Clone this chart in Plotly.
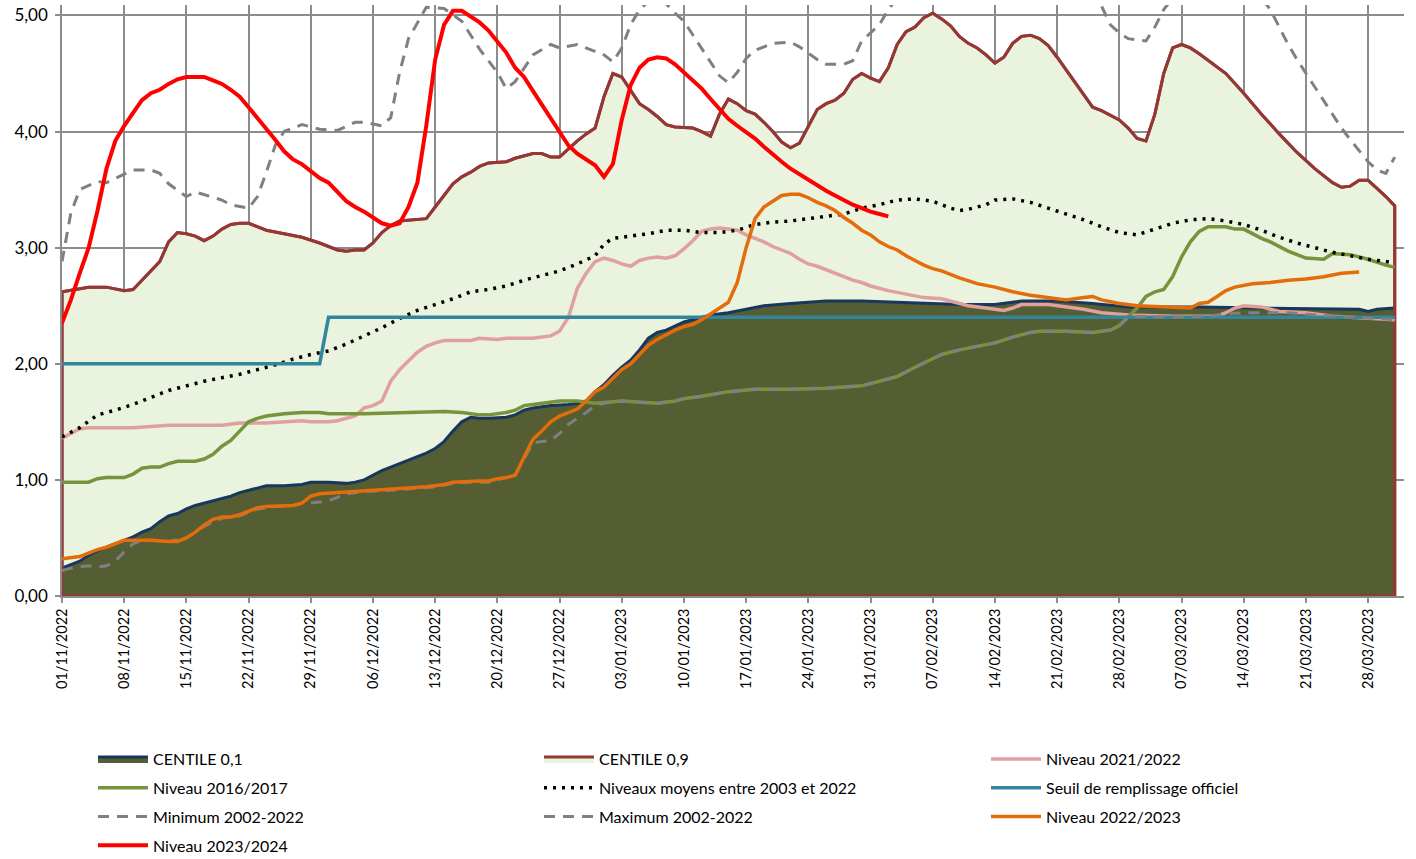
import datetime as dt
import plotly.graph_objects as go

START = dt.date(2022, 11, 1)

# ---------------- data (day offset from 01/11/2022, level) ----------------
c90_day = [0, 3, 5, 7, 8, 9, 10, 11, 12, 13, 14, 15, 16, 17, 18, 19, 20, 21, 23, 25, 27, 29, 31, 32, 33, 34, 35, 36, 37, 38, 40, 41,
           42, 43, 44, 45, 46, 47, 48, 50, 51, 53, 54, 55, 56, 57, 58, 59, 60, 61, 62, 63, 64, 65, 66, 67, 68, 69, 71, 72, 73, 74,
           75, 76, 77, 78, 79, 80, 81, 82, 83, 84, 85, 86, 87, 88, 89, 90, 91, 92, 93, 94, 95, 96, 97, 98, 99, 100, 101, 102, 103,
           104, 105, 106, 107, 108, 109, 110, 111, 112, 113, 114, 115, 116, 117, 118, 119, 120, 121, 122, 123, 124, 125, 126, 127,
           128, 130, 131, 133, 135, 137, 139, 141, 142, 143, 144, 145, 146, 147, 148, 149, 150]
c90_val = [2.62, 2.66, 2.66, 2.63, 2.64, 2.72, 2.80, 2.88, 3.05, 3.13, 3.12, 3.10, 3.06, 3.10, 3.16, 3.20, 3.21, 3.21, 3.15, 3.12,
           3.09, 3.04, 2.98, 2.97, 2.98, 2.98, 3.04, 3.13, 3.19, 3.23, 3.24, 3.25, 3.35, 3.45, 3.55, 3.61, 3.65, 3.70, 3.73, 3.74,
           3.77, 3.81, 3.81, 3.78, 3.78, 3.85, 3.92, 3.98, 4.03, 4.30, 4.50, 4.47, 4.35, 4.24, 4.19, 4.13, 4.06, 4.04, 4.03, 4.00,
           3.96, 4.15, 4.28, 4.24, 4.18, 4.15, 4.08, 4.00, 3.91, 3.86, 3.90, 4.05, 4.19, 4.24, 4.27, 4.33, 4.45, 4.50, 4.46, 4.43,
           4.55, 4.75, 4.86, 4.90, 4.98, 5.02, 4.97, 4.91, 4.82, 4.76, 4.72, 4.66, 4.59, 4.64, 4.76, 4.82, 4.83, 4.80, 4.74, 4.64,
           4.53, 4.43, 4.32, 4.21, 4.18, 4.14, 4.10, 4.03, 3.94, 3.92, 4.15, 4.50, 4.72, 4.75, 4.72, 4.67, 4.56, 4.50, 4.33, 4.15,
           3.98, 3.82, 3.68, 3.62, 3.56, 3.52, 3.53, 3.58, 3.58, 3.51, 3.44, 3.36]

c10_day = [0, 2, 3, 4, 5, 6, 7, 8, 9, 10, 11, 12, 13, 14, 15, 16, 17, 18, 19, 20, 21, 22, 23, 25, 27, 28, 30, 32, 33, 34, 35, 36,
           37, 38, 39, 40, 41, 42, 43, 44, 45, 46, 47, 48, 50, 51, 52, 53, 55, 57, 58, 59, 60, 61, 62, 63, 64, 65, 66, 67, 68, 70,
           72, 73, 75, 77, 79, 82, 86, 90, 94, 97, 101, 105, 107, 108, 112, 116, 120, 128, 135, 143, 146, 147, 148, 150]
c10_val = [0.24, 0.30, 0.35, 0.39, 0.42, 0.45, 0.48, 0.51, 0.55, 0.58, 0.64, 0.69, 0.71, 0.75, 0.78, 0.80, 0.82, 0.84, 0.86, 0.89,
           0.91, 0.93, 0.95, 0.95, 0.96, 0.98, 0.98, 0.97, 0.98, 1.00, 1.04, 1.08, 1.11, 1.14, 1.17, 1.20, 1.23, 1.27, 1.33, 1.42,
           1.50, 1.54, 1.53, 1.53, 1.54, 1.56, 1.60, 1.62, 1.64, 1.65, 1.66, 1.68, 1.76, 1.82, 1.90, 1.97, 2.03, 2.12, 2.22, 2.27,
           2.29, 2.36, 2.40, 2.42, 2.44, 2.47, 2.50, 2.52, 2.54, 2.54, 2.53, 2.52, 2.51, 2.51, 2.53, 2.54, 2.54, 2.52, 2.49, 2.49,
           2.48, 2.47, 2.47, 2.45, 2.47, 2.48]

n2122_day = [0, 1, 2, 3, 8, 10, 12, 18, 20, 23, 25, 27, 28, 30, 31, 32, 33, 34, 35, 36, 37, 38, 39, 40, 41, 42, 43, 46, 47, 49, 50,
             53, 55, 56, 57, 58, 59, 60, 61, 62, 63, 64, 65, 66, 67, 68, 69, 70, 71, 72, 73, 74, 75, 76, 77, 78, 79, 80, 81, 82,
             83, 84, 85, 86, 87, 88, 89, 90, 91, 93, 95, 97, 99, 100, 102, 104, 106, 107, 108, 111, 113, 115, 117, 120, 125, 130,
             131, 132, 133, 135, 137, 140, 143, 147, 150]
n2122_val = [1.36, 1.40, 1.44, 1.45, 1.45, 1.46, 1.47, 1.47, 1.49, 1.49, 1.50, 1.51, 1.50, 1.50, 1.51, 1.53, 1.55, 1.62, 1.64,
             1.68, 1.85, 1.95, 2.03, 2.10, 2.15, 2.18, 2.20, 2.20, 2.22, 2.21, 2.22, 2.22, 2.24, 2.28, 2.40, 2.65, 2.78, 2.88, 2.91,
             2.89, 2.86, 2.84, 2.89, 2.91, 2.92, 2.91, 2.93, 2.99, 3.06, 3.14, 3.16, 3.17, 3.16, 3.15, 3.11, 3.08, 3.05, 3.01, 2.98,
             2.95, 2.90, 2.86, 2.84, 2.81, 2.78, 2.75, 2.72, 2.70, 2.67, 2.63, 2.60, 2.57, 2.56, 2.54, 2.50, 2.48, 2.46, 2.48, 2.51,
             2.51, 2.49, 2.47, 2.44, 2.42, 2.41, 2.41, 2.44, 2.48, 2.50, 2.49, 2.45, 2.44, 2.41, 2.39, 2.38]

n1617_day = [0, 3, 4, 5, 7, 8, 9, 10, 11, 12, 13, 15, 16, 17, 18, 19, 20, 21, 22, 23, 25, 27, 29, 30, 34, 38, 40, 43, 45, 47, 48,
             50, 51, 52, 53, 56, 58, 60, 63, 65, 67, 69, 70, 72, 74, 75, 78, 82, 86, 90, 92, 94, 96, 98, 99, 101, 103, 105, 107,
             109, 110, 113, 116, 118, 119, 120, 121, 122, 123, 124, 125, 126, 127, 128, 129, 131, 132, 133, 135, 136, 137, 138, 139,
             140, 142, 143, 145, 147, 149, 150]
n1617_val = [0.98, 0.98, 1.01, 1.02, 1.02, 1.05, 1.10, 1.11, 1.11, 1.14, 1.16, 1.16, 1.18, 1.22, 1.29, 1.34, 1.42, 1.50, 1.53,
             1.55, 1.57, 1.58, 1.58, 1.57, 1.57, 1.58, 1.58, 1.59, 1.58, 1.56, 1.56, 1.58, 1.60, 1.64, 1.65, 1.68, 1.68, 1.66, 1.68,
             1.67, 1.66, 1.68, 1.70, 1.72, 1.75, 1.76, 1.78, 1.78, 1.79, 1.81, 1.85, 1.89, 1.97, 2.04, 2.08, 2.12, 2.15, 2.18, 2.23,
             2.27, 2.28, 2.28, 2.27, 2.29, 2.33, 2.40, 2.48, 2.58, 2.62, 2.64, 2.75, 2.92, 3.05, 3.14, 3.18, 3.18, 3.16, 3.16, 3.08,
             3.05, 3.01, 2.97, 2.94, 2.91, 2.90, 2.95, 2.94, 2.90, 2.85, 2.83]

moy_day = [0, 2, 4, 6, 8, 10, 12, 14, 16, 18, 20, 22, 24, 26, 28, 30, 32, 34, 36, 38, 40, 42, 44, 46, 48, 50, 52, 54, 56, 58, 60,
           61, 62, 64, 66, 68, 70, 72, 74, 76, 78, 80, 82, 84, 86, 88, 90, 92, 94, 96, 98, 100, 101, 102, 104, 105, 107, 109, 111,
           113, 115, 117, 119, 121, 123, 125, 127, 129, 131, 133, 135, 137, 139, 141, 143, 145, 147, 149, 150]
moy_val = [1.37, 1.45, 1.56, 1.60, 1.65, 1.71, 1.77, 1.81, 1.85, 1.88, 1.91, 1.95, 1.99, 2.04, 2.08, 2.11, 2.17, 2.24, 2.31, 2.39,
           2.46, 2.51, 2.56, 2.62, 2.64, 2.67, 2.72, 2.76, 2.80, 2.86, 2.93, 3.03, 3.08, 3.10, 3.12, 3.15, 3.15, 3.13, 3.13, 3.15,
           3.20, 3.22, 3.23, 3.25, 3.27, 3.29, 3.34, 3.37, 3.41, 3.42, 3.40, 3.34, 3.32, 3.33, 3.37, 3.41, 3.42, 3.39, 3.34, 3.29,
           3.24, 3.18, 3.13, 3.11, 3.16, 3.21, 3.24, 3.25, 3.23, 3.20, 3.15, 3.09, 3.04, 3.00, 2.96, 2.93, 2.90, 2.88, 2.87]

seuil_day = [0, 29, 30, 150]
seuil_val = [2.00, 2.00, 2.40, 2.40]

min_day = [0, 1, 3, 4, 5, 6, 7, 8, 9, 10, 12, 14, 16, 18, 20, 22, 24, 26, 27, 28, 30, 31, 32, 34, 37, 40, 42, 44, 46, 48, 50, 51,
           52, 53, 55, 56, 57, 58, 59, 60, 61, 63, 65, 67, 69, 70, 72, 74, 75, 78, 82, 86, 90, 92, 94, 96, 98, 99, 101, 103, 105,
           107, 109, 110, 113, 116, 118, 119, 120, 121, 125, 129, 131, 133, 138, 141, 143, 147, 150]
min_val = [0.22, 0.24, 0.26, 0.25, 0.26, 0.30, 0.38, 0.45, 0.48, 0.48, 0.47, 0.50, 0.60, 0.67, 0.69, 0.75, 0.77, 0.78, 0.80, 0.80,
           0.82, 0.85, 0.88, 0.90, 0.91, 0.93, 0.94, 0.97, 0.98, 0.98, 1.02, 1.04, 1.18, 1.32, 1.34, 1.40, 1.48, 1.53, 1.58, 1.64,
           1.66, 1.68, 1.67, 1.66, 1.68, 1.70, 1.72, 1.75, 1.76, 1.78, 1.78, 1.79, 1.81, 1.85, 1.89, 1.97, 2.04, 2.08, 2.12, 2.15,
           2.18, 2.23, 2.27, 2.28, 2.28, 2.27, 2.29, 2.33, 2.40, 2.41, 2.40, 2.41, 2.43, 2.44, 2.44, 2.42, 2.41, 2.39, 2.38]

max_day = [0, 1, 2, 4, 5, 8, 10, 11, 12, 14, 15, 18, 19, 21, 22, 23, 24, 25, 27, 29, 31, 33, 34, 36, 37, 38, 39, 41, 43, 45, 47,
           49, 50, 51, 53, 55, 56, 58, 60, 61, 62, 63, 64, 65, 66, 67, 68, 69, 70, 71, 72, 73, 74, 75, 76, 77, 78, 80, 82, 83, 85,
           86, 88, 89, 90, 91, 92, 93, 94, 95, 100, 110, 116, 117, 118, 119, 120, 121, 122, 123, 124, 125, 130, 135, 136, 137, 138,
           139, 140, 141, 142, 143, 144, 145, 146, 147, 148, 149, 150]
max_val = [2.88, 3.30, 3.50, 3.57, 3.56, 3.67, 3.67, 3.64, 3.55, 3.44, 3.48, 3.41, 3.37, 3.34, 3.44, 3.65, 3.88, 4.00, 4.06, 4.02,
           4.01, 4.08, 4.08, 4.05, 4.12, 4.51, 4.80, 5.07, 5.06, 4.95, 4.71, 4.51, 4.37, 4.43, 4.66, 4.75, 4.72, 4.75, 4.69, 4.66,
           4.60, 4.72, 4.92, 5.05, 5.12, 5.12, 5.10, 5.02, 4.95, 4.83, 4.72, 4.60, 4.48, 4.42, 4.51, 4.63, 4.70, 4.76, 4.77, 4.73,
           4.62, 4.58, 4.58, 4.61, 4.78, 4.85, 4.92, 5.05, 5.15, 5.20, 5.30, 5.30, 5.20, 5.08, 4.92, 4.85, 4.80, 4.79, 4.78, 4.90,
           5.05, 5.15, 5.30, 5.15, 5.05, 4.90, 4.75, 4.62, 4.50, 4.38, 4.26, 4.14, 4.03, 3.93, 3.84, 3.74, 3.67, 3.64, 3.78]

n2223_day = [0, 2, 3, 4, 5, 6, 7, 8, 10, 12, 13, 14, 15, 16, 17, 18, 19, 20, 21, 22, 23, 25, 26, 27, 28, 29, 31, 33, 35, 37, 39,
             41, 43, 44, 47, 48, 49, 50, 51, 52, 53, 54, 55, 56, 57, 58, 59, 60, 61, 62, 63, 64, 65, 66, 67, 68, 69, 70, 71, 72,
             73, 74, 75, 76, 77, 78, 79, 80, 81, 82, 83, 84, 85, 86, 87, 88, 89, 90, 91, 92, 93, 94, 95, 96, 97, 98, 99, 101, 103,
             105, 107, 109, 111, 113, 115, 116, 117, 119, 121, 124, 126, 127, 128, 129, 130, 131, 132, 134, 136, 138, 140, 142,
             144, 146]
n2223_val = [0.32, 0.34, 0.37, 0.40, 0.42, 0.45, 0.48, 0.48, 0.48, 0.47, 0.47, 0.50, 0.55, 0.61, 0.66, 0.68, 0.68, 0.70, 0.73,
             0.76, 0.77, 0.78, 0.78, 0.80, 0.86, 0.88, 0.89, 0.90, 0.91, 0.92, 0.93, 0.94, 0.96, 0.98, 0.99, 0.99, 1.01, 1.02, 1.04,
             1.20, 1.35, 1.42, 1.50, 1.55, 1.58, 1.61, 1.68, 1.76, 1.80, 1.87, 1.95, 2.00, 2.08, 2.16, 2.21, 2.25, 2.29, 2.32, 2.34,
             2.38, 2.43, 2.48, 2.53, 2.70, 3.00, 3.25, 3.35, 3.40, 3.45, 3.46, 3.46, 3.43, 3.39, 3.36, 3.32, 3.26, 3.21, 3.15, 3.11,
             3.05, 3.01, 2.98, 2.93, 2.89, 2.85, 2.82, 2.80, 2.74, 2.69, 2.66, 2.62, 2.59, 2.57, 2.55, 2.57, 2.58, 2.55, 2.52, 2.50,
             2.49, 2.48, 2.48, 2.52, 2.53, 2.58, 2.63, 2.66, 2.69, 2.70, 2.72, 2.73, 2.75, 2.78, 2.79]

n2324_day = list(range(0, 94))
n2324_val = [2.35, 2.55, 2.78, 3.00, 3.32, 3.68, 3.92, 4.05, 4.16, 4.27, 4.33, 4.36, 4.41, 4.45, 4.47, 4.47, 4.47, 4.44, 4.41, 4.36,
             4.30, 4.21, 4.12, 4.03, 3.93, 3.83, 3.76, 3.72, 3.66, 3.60, 3.56, 3.48, 3.40, 3.35, 3.31, 3.26, 3.21, 3.19, 3.21, 3.35,
             3.56, 4.05, 4.62, 4.92, 5.04, 5.04, 4.99, 4.94, 4.87, 4.78, 4.68, 4.55, 4.47, 4.35, 4.23, 4.11, 3.99, 3.88, 3.81, 3.76,
             3.71, 3.61, 3.72, 4.10, 4.40, 4.55, 4.62, 4.64, 4.63, 4.58, 4.51, 4.45, 4.37, 4.28, 4.20, 4.11, 4.05, 4.00, 3.94, 3.87,
             3.80, 3.74, 3.68, 3.63, 3.59, 3.54, 3.49, 3.45, 3.41, 3.37, 3.34, 3.31, 3.29, 3.27]

y_ticks = [0, 1, 2, 3, 4, 5]

# ---------------- helpers ----------------
def to_dates(days):
    return [(START + dt.timedelta(days=d)).isoformat() for d in days]


FONT = "Lato"
fig = go.Figure()

# closed outline of the CENTILE 0,9 area (Excel draws its border down to the axis)
c90_x = to_dates([c90_day[0]] + c90_day + [c90_day[-1], c90_day[0]])
c90_y = [0] + c90_val + [0, 0]

fig.add_trace(go.Scatter(x=c90_x, y=c90_y, mode="lines", fill="toself", fillcolor="#E9F3DD",
                         line=dict(color="#953735", width=3), name="CENTILE 0,9",
                         legend="legend2", legendgroup="c90", hoverinfo="skip"))
fig.add_trace(go.Scatter(x=to_dates(c10_day), y=c10_val, mode="lines", fill="tozeroy", fillcolor="#555D32",
                         line=dict(color="#17375E", width=3), name="CENTILE 0,1",
                         legend="legend", legendgroup="c10"))
fig.add_trace(go.Scatter(x=c90_x, y=c90_y, mode="lines", line=dict(color="#953735", width=3),
                         showlegend=False, hoverinfo="skip"))

line_specs = [
    (n2122_day, n2122_val, "Niveau 2021/2022", "#E0A09E", 3.5, "solid", "legend3"),
    (n1617_day, n1617_val, "Niveau 2016/2017", "#77933C", 3.5, "solid", "legend"),
    (moy_day, moy_val, "Niveaux moyens entre 2003 et 2022", "#000000", 3.5, "3px,6px", "legend2"),
    (seuil_day, seuil_val, "Seuil de remplissage officiel", "#31859C", 3.5, "solid", "legend3"),
    (min_day, min_val, "Minimum 2002-2022", "#808080", 3, "11px,8px", "legend"),
    (max_day, max_val, "Maximum 2002-2022", "#808080", 3, "11px,8px", "legend2"),
    (n2223_day, n2223_val, "Niveau 2022/2023", "#E46C0A", 3.5, "solid", "legend3"),
    (n2324_day, n2324_val, "Niveau 2023/2024", "#FF0000", 4, "solid", "legend"),
]
for days, vals, name, color, w, dash, lg in line_specs:
    fig.add_trace(go.Scatter(x=to_dates(days), y=vals, mode="lines", name=name,
                             line=dict(color=color, width=w, dash=dash),
                             legend=lg, legendgroup=name))

# legend order inside each column
order = {"CENTILE 0,1": 1, "Niveau 2016/2017": 2, "Minimum 2002-2022": 3, "Niveau 2023/2024": 4,
         "CENTILE 0,9": 1, "Niveaux moyens entre 2003 et 2022": 2, "Maximum 2002-2022": 3,
         "Niveau 2021/2022": 1, "Seuil de remplissage officiel": 2, "Niveau 2022/2023": 3}
for tr in fig.data:
    if tr.name in order:
        tr.legendrank = order[tr.name]

W, H = 1416, 859
legend_common = dict(xref="container", yref="container", xanchor="left", yanchor="top",
                     orientation="v", bgcolor="rgba(0,0,0,0)", itemwidth=50,
                     tracegroupgap=5, font=dict(family=FONT, size=16, color="#000000"),
                     itemclick=False, itemdoubleclick=False)
top_y = 1 - 742 / H

fig.update_layout(
    width=W, height=H,
    paper_bgcolor="white", plot_bgcolor="white",
    separators=", ",
    margin=dict(l=62, r=12, t=5, b=263, autoexpand=False),
    showlegend=True,
    legend=dict(x=93 / W, y=top_y, **legend_common),
    legend2=dict(x=539 / W, y=top_y, **legend_common),
    legend3=dict(x=986 / W, y=top_y, **legend_common),
    xaxis=dict(
        type="date",
        range=["2022-11-01", "2023-04-01 01:00"],
        tick0="2022-11-01", dtick=7 * 86400000,
        tickformat="%d/%m/%Y", tickangle=-90,
        tickfont=dict(family=FONT, size=14.5, color="#000000"),
        showgrid=True, gridcolor="#8C8C8C", gridwidth=1.5,
        showline=True, linecolor="#8C8C8C", linewidth=1.5,
        ticks="outside", ticklen=5, tickcolor="#8C8C8C", tickwidth=1.5,
        zeroline=False, automargin=False,
    ),
    yaxis=dict(
        range=[0, 5.09],
        tickvals=y_ticks, tickformat=".2f",
        tickfont=dict(family=FONT, size=17, color="#000000"),
        ticklabelstandoff=4,
        showgrid=True, gridcolor="#8C8C8C", gridwidth=1.5,
        showline=True, linecolor="#8C8C8C", linewidth=1.5,
        ticks="outside", ticklen=5, tickcolor="#8C8C8C", tickwidth=1.5,
        zeroline=False, automargin=False,
    ),
)

fig.write_html("out.html", config={"displayModeBar": False},
               post_script="document.body.style.margin='0';document.body.style.overflow='hidden';")
